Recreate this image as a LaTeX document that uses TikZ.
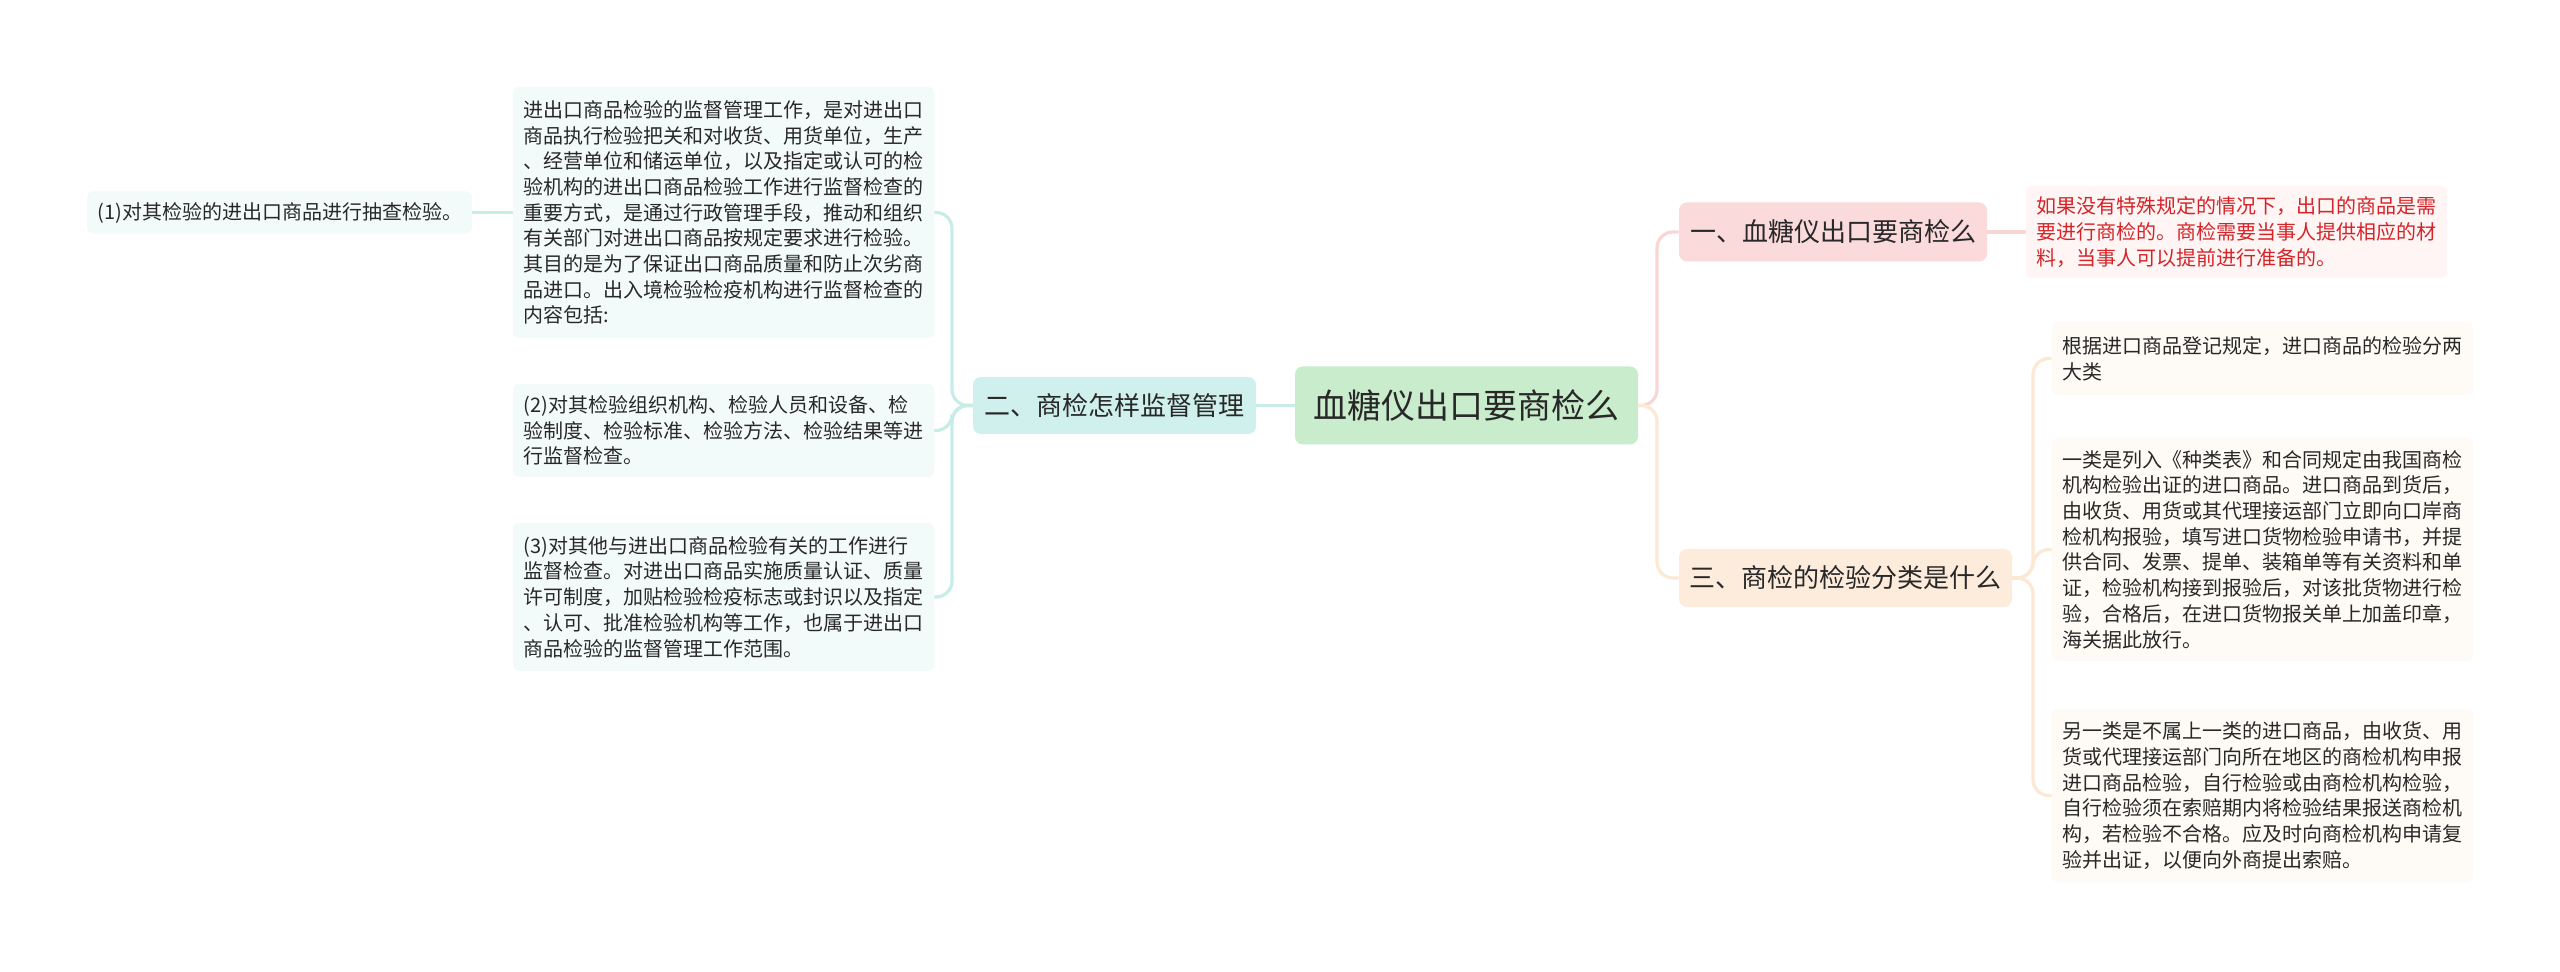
\documentclass[tikz,border=0pt]{standalone}
\usepackage{fontspec}
\setmainfont{Noto Sans CJK SC}
\definecolor{cgreen}{RGB}{200,236,204}
\definecolor{cteal}{RGB}{207,240,236}
\definecolor{cpink}{RGB}{250,218,219}
\definecolor{cpeach}{RGB}{253,236,220}
\definecolor{lteal}{RGB}{243,250,250}
\definecolor{lpeach}{RGB}{254,251,246}
\definecolor{lpink}{RGB}{255,245,245}
\definecolor{redtext}{RGB}{212,36,40}
\definecolor{tline}{RGB}{200,236,230}
\definecolor{pline}{RGB}{249,214,214}
\definecolor{oline}{RGB}{252,233,212}
\definecolor{dtext}{RGB}{40,40,40}
\begin{document}
\begin{tikzpicture}[x=0.5pt,y=-0.5pt,
  mainbox/.style={rounded corners=4pt, inner sep=0pt, text=dtext, font=\fontsize{13pt}{16pt}\selectfont},
  leafbox/.style={rounded corners=3pt, inner xsep=5.25pt, inner ysep=0pt, text width=200pt, align=left, text=dtext, font=\fontsize{10pt}{12.85pt}\selectfont},
  conn/.style={line width=1.6pt, rounded corners=8pt}]
\useasboundingbox (0,0) rectangle (2560,972);
\fill[white] (0,0) rectangle (2560,972);
% central
\node[mainbox, fill=cgreen, minimum width=171.5pt, minimum height=39pt, font=\fontsize{17pt}{20pt}\selectfont] (root) at (1466.5,405.5) {血糖仪出口要商检么};
% left branch
\node[mainbox, fill=cteal, minimum width=141.5pt, minimum height=28.5pt] (er) at (1114.5,405.5) {二、商检怎样监督管理};
\node[leafbox, fill=lteal, minimum height=125.5pt] (b1) at (723.5,212.5) {进出口商品检验的监督管理工作，是对进出口\\商品执行检验把关和对收货、用货单位，生产\\、经营单位和储运单位，以及指定或认可的检\\验机构的进出口商品检验工作进行监督检查的\\重要方式，是通过行政管理手段，推动和组织\\有关部门对进出口商品按规定要求进行检验。\\其目的是为了保证出口商品质量和防止次劣商\\品进口。出入境检验检疫机构进行监督检查的\\内容包括:};
\node[leafbox, fill=lteal, minimum height=46.5pt] (b2) at (723.5,430.5) {(2)对其检验组织机构、检验人员和设备、检\\验制度、检验标准、检验方法、检验结果等进\\行监督检查。};
\node[leafbox, fill=lteal, minimum height=74pt] (b3) at (723.5,597) {(3)对其他与进出口商品检验有关的工作进行\\监督检查。对进出口商品实施质量认证、质量\\许可制度，加贴检验检疫标志或封识以及指定\\、认可、批准检验机构等工作，也属于进出口\\商品检验的监督管理工作范围。};
\node[leafbox, fill=lteal, text width=182pt, minimum height=21pt] (one) at (279.5,212.5) {(1)对其检验的进出口商品进行抽查检验。};
% right branch
\node[mainbox, fill=cpink, minimum width=154pt, minimum height=29.5pt] (yi) at (1833,232) {一、血糖仪出口要商检么};
\node[leafbox, fill=lpink, text=redtext, minimum height=46pt] (red) at (2236.5,232) {如果没有特殊规定的情况下，出口的商品是需\\要进行商检的。商检需要当事人提供相应的材\\料，当事人可以提前进行准备的。};
\node[mainbox, fill=cpeach, minimum width=166.5pt, minimum height=29pt] (san) at (1845.5,578) {三、商检的检验分类是什么};
\node[leafbox, fill=lpeach, minimum height=36.5pt] (ca) at (2262.5,358.5) {根据进口商品登记规定，进口商品的检验分两\\大类};
\node[leafbox, fill=lpeach, minimum height=111.5pt] (cb) at (2262.5,549.5) {一类是列入《种类表》和合同规定由我国商检\\机构检验出证的进口商品。进口商品到货后，\\由收货、用货或其代理接运部门立即向口岸商\\检机构报验，填写进口货物检验申请书，并提\\供合同、发票、提单、装箱单等有关资料和单\\证，检验机构接到报验后，对该批货物进行检\\验，合格后，在进口货物报关单上加盖印章，\\海关据此放行。};
\node[leafbox, fill=lpeach, minimum height=86.5pt] (cc) at (2262.5,795.5) {另一类是不属上一类的进口商品，由收货、用\\货或代理接运部门向所在地区的商检机构申报\\进口商品检验，自行检验或由商检机构检验，\\自行检验须在索赔期内将检验结果报送商检机\\构，若检验不合格。应及时向商检机构申请复\\验并出证，以便向外商提出索赔。};
% spines
\coordinate (spL) at (952,405.5);
\coordinate (spR) at (1657,405.5);
\coordinate (sp3) at (2033,578);
% connectors
\draw[conn, tline] (root.west) -- (er.east);
\draw[conn, tline] (er.west) -- (spL) |- (b1.east);
\draw[conn, tline] (er.west) -- (spL) |- (b2.east);
\draw[conn, tline] (er.west) -- (spL) |- (b3.east);
\draw[conn, tline] (b1.west) -- (one.east);
\draw[conn, pline] (root.east) -- (spR) |- (yi.west);
\draw[conn, oline] (root.east) -- (spR) |- (san.west);
\draw[conn, pline] (yi.east) -- (red.west);
\draw[conn, oline] (san.east) -- (sp3) |- (ca.west);
\draw[conn, oline] (san.east) -- (sp3) |- (cb.west);
\draw[conn, oline] (san.east) -- (sp3) |- (cc.west);
\end{tikzpicture}
\end{document}
